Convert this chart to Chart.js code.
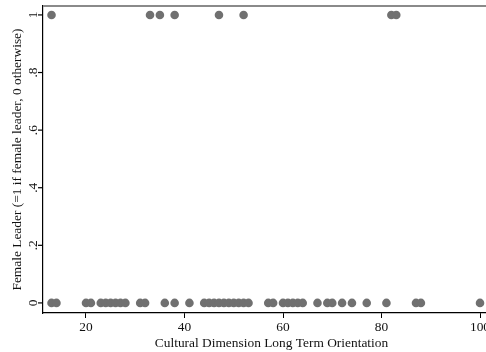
<!DOCTYPE html>
<html>
<head>
<meta charset="utf-8">
<script src="https://cdn.jsdelivr.net/npm/chart.js@4"></script>
<style>
html,body{margin:0;padding:0;background:#fff;overflow:hidden;}
#wrap{width:505px;height:352px;position:relative;}
</style>
</head>
<body>
<div id="wrap"><canvas id="chartLTO"></canvas></div>
<script>
/* données */

const leaderX = [13,33,35,38,47,52,82,83];          // femme leader = 1
const otherX = [13,14,20,21,23,24,25,26,27,28,31,32,36,38,41,
44,45,46,47,48,49,50,51,52,53,57,58,60,61,62,63,64,
67,69,70,72,74,77,81,87,88,100];                     // femme leader = 0

const xTicks = [20,40,60,80,100];
const yTicks = [0,0.2,0.4,0.6,0.8,1];
const yTickLabels = ["0",".2",".4",".6",".8","1"];

const xTitle = "Cultural Dimension Long Term Orientation";
const yTitle = "Female Leader (=1 if female leader, 0 otherwise)";

let points=[];
leaderX.forEach(x=>points.push({x,y:1}));
otherX.forEach(x=>points.push({x,y:0}));

const font = {family:"'Liberation Serif', serif", size:13.4};

/* bord supérieur gris + graduations y verticales */
const frameAndLabels = {
id:"frameAndLabels",
afterDraw(chart){
const a = chart.chartArea, ctx = chart.ctx;
const ys = chart.scales.y;
ctx.save();
ctx.strokeStyle="#8a8a8a";
ctx.lineWidth=2;
ctx.beginPath();
ctx.moveTo(a.left,a.top);
ctx.lineTo(a.right+10,a.top);
ctx.stroke();

ctx.strokeStyle="#000";
ctx.lineWidth=1.2;
ctx.fillStyle="#111";
ctx.font="13.4px 'Liberation Serif', serif";
ctx.textAlign="center";
ctx.textBaseline="middle";
yTicks.forEach((v,i)=>{
const py = ys.getPixelForValue(v);
ctx.beginPath();
ctx.moveTo(a.left-5,py);
ctx.lineTo(a.left,py);
ctx.stroke();
ctx.save();
ctx.translate(a.left-10,py);
ctx.rotate(-Math.PI/2);
ctx.fillText(yTickLabels[i],0,0);
ctx.restore();
});
ctx.restore();
}
};

new Chart(document.getElementById("chartLTO"),{
type:"scatter",
data:{datasets:[{
data:points,
backgroundColor:"#707070",
borderColor:"#707070",
pointRadius:4.3,
pointHoverRadius:4.3,
borderWidth:0
}]},
options:{
responsive:true,
maintainAspectRatio:false,
animation:false,
layout:{padding:{top:6,right:5,left:0,bottom:0}},
plugins:{legend:{display:false},tooltip:{enabled:false}},
scales:{
x:{
type:"linear",
min:11.27,
max:104.06,
afterBuildTicks:s=>{s.ticks=xTicks.map(v=>({value:v}));},
afterFit:s=>{s.height=39;},
grid:{display:true,drawOnChartArea:false,tickLength:5,color:"#000",tickColor:"#000"},
border:{display:true,color:"#000",width:1.2},
ticks:{color:"#111",font,padding:1,maxRotation:0},
title:{display:true,text:xTitle,color:"#111",font,padding:{top:-10,bottom:0}}
},
y:{
type:"linear",
min:-0.035,
max:1.031,
afterBuildTicks:s=>{s.ticks=yTicks.map(v=>({value:v}));},
afterFit:s=>{s.width=43;},
grid:{display:false},
border:{display:true,color:"#000",width:1.2},
ticks:{display:false},
title:{display:true,text:yTitle,color:"#111",font,padding:{top:9,bottom:0}}
}
}
},
plugins:[frameAndLabels]
});
</script>
</body>
</html>
